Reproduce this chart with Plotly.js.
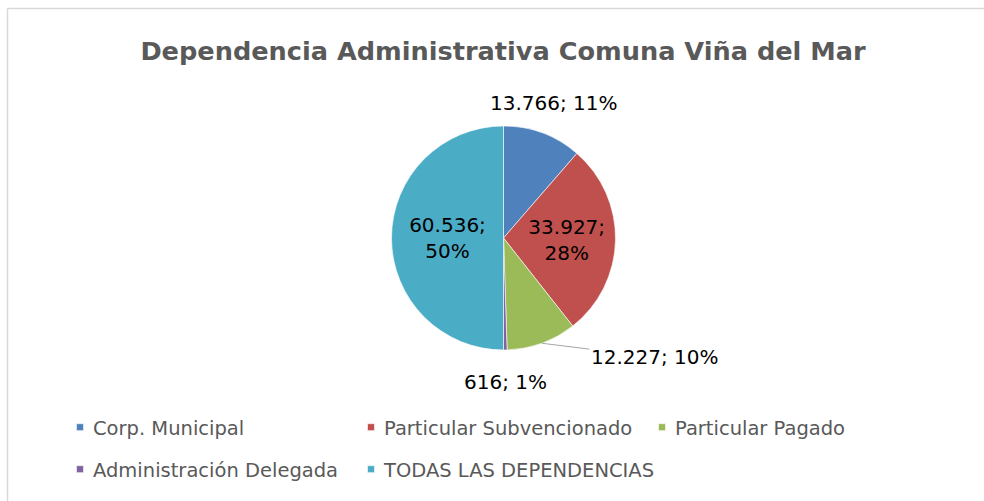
<!DOCTYPE html>
<html>
<head>
<meta charset="utf-8">
<script src="https://cdn.plot.ly/plotly-3.0.1.min.js"></script>
<style>
  html, body { margin: 0; padding: 0; background: #ffffff; }
  #chart { width: 984px; height: 501px; }
</style>
</head>
<body>
<div id="chart"></div>
<script>
// ---- data ----
const titleText = "Dependencia Administrativa Comuna Viña del Mar";
const categories = ["Corp. Municipal", "Particular Subvencionado", "Particular Pagado", "Administración Delegada", "TODAS LAS DEPENDENCIAS"];
const values = [13766, 33927, 12227, 616, 60536];

// ---- style ----
const colors = ["#4F81BD", "#C0504D", "#9BBB59", "#8064A2", "#4BACC6"];
const labelPlacement = ["outside", "inside", "outside", "outside", "inside"];
// label pulled away from its slice (pixels, relative to slice edge) -> drawn with a leader line
const calloutOffset = { 2: [113, 14] };
const outsideLabelDist = 1.29;   // in radii, along the slice mid-angle

// ---- helpers ----
function fmtNum(n) {
  return String(n).replace(/\B(?=(\d{3})+(?!\d))/g, ".");
}
const total = values.reduce((a, b) => a + b, 0);
const pcts = values.map(v => Math.round(v / total * 100) + "%");

const W = 984, H = 501;
const cx = 503.5, cy = 238, r = 112;
const labelFont = { family: "DejaVu Sans", size: 20, color: "#000000" };

const insideTexts = values.map((v, i) => labelPlacement[i] === "inside" ? fmtNum(v) + ";<br>" + pcts[i] : "");

const trace = {
  type: "pie",
  labels: categories,
  values: values,
  text: insideTexts,
  textinfo: "text",
  textposition: labelPlacement.map(p => p === "inside" ? "inside" : "none"),
  insidetextorientation: "horizontal",
  sort: false,
  direction: "clockwise",
  rotation: 0,
  marker: { colors: colors, line: { color: "#ffffff", width: 0.6 } },
  insidetextfont: labelFont,
  domain: {
    x: [(cx - r) / W, (cx + r) / W],
    y: [(H - (cy + r)) / H, (H - (cy - r)) / H]
  },
  hoverinfo: "label+value+percent"
};

// outside labels, placed along each slice's mid-angle
const annotations = [];
let cum = 0;
values.forEach((v, i) => {
  const mid = (cum + v / 2) / total * 2 * Math.PI; // clockwise from 12 o'clock
  cum += v;
  if (labelPlacement[i] !== "outside") return;
  const txt = fmtNum(v) + "; " + pcts[i];
  if (calloutOffset[i]) {
    const tx = cx + r * Math.sin(mid), ty = cy - r * Math.cos(mid);
    annotations.push({
      xref: "paper", yref: "paper", x: tx / W, y: 1 - ty / H,
      text: txt, font: labelFont, showarrow: true, arrowhead: 0, arrowwidth: 1,
      arrowcolor: "#a6a6a6", ax: calloutOffset[i][0], ay: calloutOffset[i][1],
      standoff: 0, startstandoff: 0
    });
  } else {
    const d = r * outsideLabelDist;
    const px = cx + d * Math.sin(mid), py = cy - d * Math.cos(mid);
    annotations.push({
      xref: "paper", yref: "paper", x: px / W, y: 1 - py / H,
      xanchor: "center", yanchor: "middle",
      text: txt, font: labelFont, showarrow: false
    });
  }
});

const layout = {
  width: W,
  height: H,
  margin: { l: 0, r: 0, t: 0, b: 0 },
  paper_bgcolor: "#ffffff",
  title: {
    text: "<b>" + titleText + "</b>",
    font: { family: "DejaVu Sans", size: 25.6, color: "#595959" },
    x: 503 / W, xanchor: "center",
    y: 1 - 51 / H, yanchor: "middle"
  },
  showlegend: true,
  legend: {
    orientation: "h",
    x: 53 / W, xanchor: "left",
    y: 1 - 408 / H, yanchor: "top",
    entrywidth: 246, entrywidthmode: "pixels",
    font: { family: "DejaVu Sans", size: 19.5, color: "#595959" },
    itemclick: false, itemdoubleclick: false
  },
  annotations: annotations,
  shapes: [
    { type: "line", xref: "paper", yref: "paper", x0: 7.5 / W, x1: 7.5 / W, y0: 0, y1: 1 - 8.5 / H, line: { color: "#d9d9d9", width: 1.5 } },
    { type: "line", xref: "paper", yref: "paper", x0: 7.5 / W, x1: 1, y0: 1 - 8.5 / H, y1: 1 - 8.5 / H, line: { color: "#d9d9d9", width: 1.5 } }
  ]
};

const legendRowGap = 42;

Plotly.newPlot("chart", [trace], layout, { displayModeBar: false }).then(function () {
  // small square swatches placed close to the text, like the original
  document.querySelectorAll("#chart .legendpoints path").forEach(function (p) {
    p.setAttribute("d", "M3.5,3.5H-3.5V-3.5H3.5Z");
    p.setAttribute("transform", "translate(27,0)");
  });
  // wider spacing between legend rows
  const sb = document.querySelector("#chart .legend .scrollbox");
  if (sb) sb.removeAttribute("clip-path");
  const items = Array.from(document.querySelectorAll("#chart .legend .traces"));
  const parsed = items.map(g => {
    const m = /translate\(\s*([-\d.e]+)[ ,]+([-\d.e]+)\s*\)/.exec(g.getAttribute("transform") || "");
    return m ? { g: g, x: +m[1], y: +m[2] } : null;
  }).filter(Boolean);
  const rows = Array.from(new Set(parsed.map(p => p.y))).sort((a, b) => a - b);
  parsed.forEach(p => {
    const k = rows.indexOf(p.y);
    p.g.setAttribute("transform", "translate(" + p.x + "," + (rows[0] + k * legendRowGap) + ")");
  });
});
</script>
</body>
</html>
